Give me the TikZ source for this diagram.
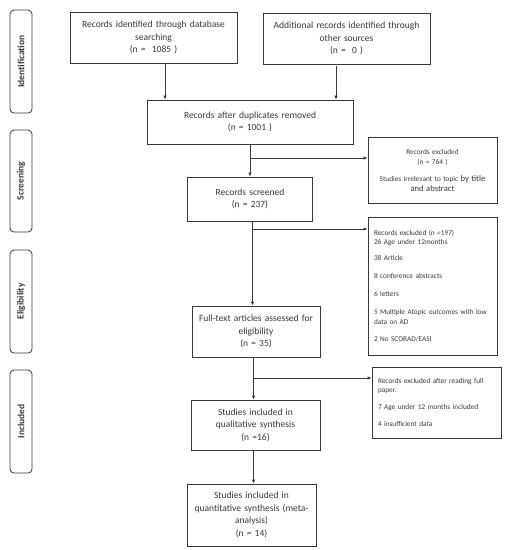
\documentclass[tikz,border=0pt]{standalone}
\usepackage{fontspec}
\setmainfont{Carlito}
\usetikzlibrary{arrows.meta,calc}
\definecolor{ink}{HTML}{383838}
\begin{document}
\begin{tikzpicture}[x=1pt,y=-1pt,
  box/.style={draw=ink,line width=0.8pt,text=ink,align=center,inner sep=2pt,
    font=\fontsize{9.5}{12.6}\selectfont},
  exbox/.style={draw=ink,line width=0.8pt,text=ink,align=left,inner xsep=6pt,inner ysep=2pt,
    font=\fontsize{7.3}{9.4}\selectfont},
  side/.style={draw=ink,line width=0.8pt,rounded corners=4pt,minimum width=22pt},
  sidelabel/.style={rotate=90,text=ink,font=\fontsize{9.5}{11}\selectfont\bfseries},
  arr/.style={draw=ink,line width=0.8pt,-{Latex[length=4pt,width=3.5pt]}}]
\useasboundingbox (0,0) rectangle (505,550);
% side labels
\node[side,minimum height=103pt] (s1) at (21,61.5) {};
\node[sidelabel] at (s1) {Identification};
\node[side,minimum height=102pt] (s2) at (21,181) {};
\node[sidelabel] at (s2) {Screening};
\node[side,minimum height=103pt] (s3) at (21,301.5) {};
\node[sidelabel] at (s3) {Eligibility};
\node[side,minimum height=103pt] (s4) at (21,421.5) {};
\node[sidelabel] at (s4) {Included};
% main boxes
\node[box,minimum width=167pt,minimum height=51pt,text width=158pt] (b1) at (153.5,37.5)
  {Records identified through database\\searching\\(n =\ \ 1085 )};
\node[box,minimum width=167pt,minimum height=51pt,text width=158pt] (b2) at (346.5,38.5)
  {Additional records identified through\\other sources\\(n =\ \ 0 )};
\node[box,minimum width=206pt,minimum height=44pt,text width=195pt] (b3) at (250,122)
  {Records after duplicates removed\\(n = 1001 )};
\node[box,minimum width=125pt,minimum height=44pt,text width=118pt] (b4) at (250,199)
  {Records screened\\(n = 237)};
\node[box,minimum width=128pt,minimum height=51pt,text width=122pt] (b5) at (256,331.5)
  {Full-text articles assessed for\\eligibility\\(n = 35)};
\node[box,minimum width=129pt,minimum height=50pt,text width=122pt] (b6) at (255.5,425)
  {Studies included in\\qualitative synthesis\\(n =16)};
\node[box,minimum width=129pt,minimum height=62pt,text width=122pt] (b7) at (251.5,515)
  {Studies included in\\quantitative synthesis (meta-\\analysis)\\(n = 14)};
% exclusion boxes
\node[box,font=\fontsize{7.3}{10}\selectfont,minimum width=129pt,minimum height=66pt,text width=124pt] (e1) at (432.5,170)
  {Records excluded\\(n = 764 )\\[7pt]Studies irrelevant to topic {\fontsize{8.6}{10}\selectfont by title}\\{\fontsize{8.6}{11}\selectfont and abstract}};
\node[exbox,minimum width=129pt,minimum height=138pt,text width=117pt] (e2) at (432.5,286)
  {Records excluded (n =197)\\26 Age under 12months\\[6.5pt]38 Article\\[8.5pt]8 conference abstracts\\[8.5pt]6 letters\\[9pt]5 Multiple Atopic outcomes with low\\data on AD\\[8.5pt]2 No SCORAD/EASI};
\node[exbox,minimum width=129pt,minimum height=71pt,text width=117pt] (e3) at (436.5,402.5)
  {Records excluded after reading full\\paper.\\[8pt]7 Age under 12 months included\\[7.5pt]4 insufficient data};
% connectors
\draw[arr] ([xshift=11.5pt]b1.south) -- ([xshift=11.5pt]b1.south |- b3.north);
\draw[arr] ([xshift=-10.5pt,yshift=-2pt]b2.south) -- ([xshift=-10.5pt]b2.south |- b3.north);
\draw[arr] (b3.south) -- (b4.north);
\coordinate (j1) at (250,158);
\draw[arr] (j1) -- (j1 -| e1.west);
\draw[arr] ([xshift=2.5pt]b4.south) -- ([xshift=2.5pt]b4.south |- b5.north);
\coordinate (j2) at (252.5,229);
\draw[arr] (j2) -- (j2 -| e2.west);
\draw[arr] ([xshift=-2.5pt]b5.south) -- ([xshift=-2.5pt]b5.south |- b6.north);
\coordinate (j3) at (253.5,378);
\draw[arr] (j3) -- (j3 -| e3.west);
\draw[arr] ([xshift=-2pt]b6.south) -- ([xshift=-2pt]b6.south |- b7.north);
\end{tikzpicture}
\end{document}
